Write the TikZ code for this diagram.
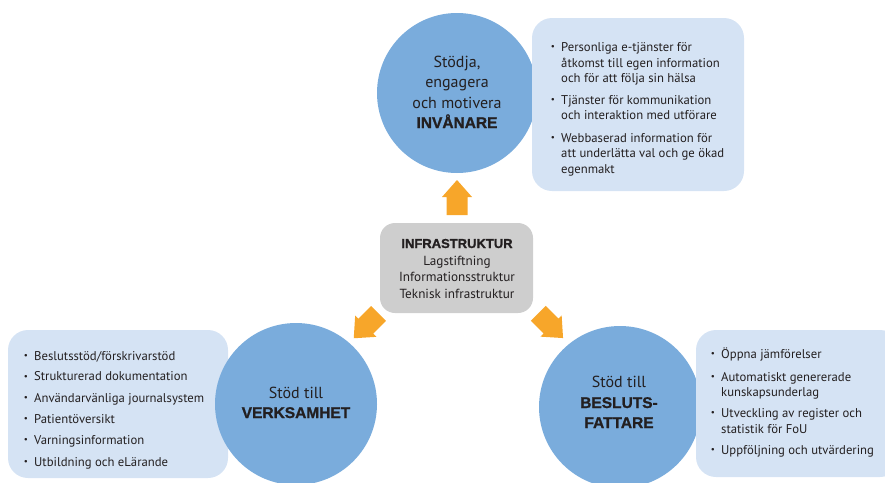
\documentclass[tikz,border=0pt]{standalone}
\usepackage{fontspec}
\setmainfont{PT Sans}
\newfontfamily\heavyfont{Liberation Sans}[BoldFeatures={FakeBold=1.2}]
\definecolor{circc}{RGB}{122,172,220}
\definecolor{boxc}{RGB}{213,227,244}
\definecolor{grayc}{RGB}{206,206,206}
\definecolor{orangec}{RGB}{247,166,42}
\definecolor{txtc}{RGB}{35,31,32}
\tikzset{
  circ/.style={fill=circc},
  infobox/.style={fill=boxc, rounded corners=20pt},
  arrowshape/.style={fill=orangec},
  ctext/.style={anchor=base, inner sep=0pt, text=txtc, font=\fontsize{16}{18}\selectfont},
  cbold/.style={anchor=base, inner sep=0pt, text=txtc, font=\heavyfont\bfseries\fontsize{15.5}{18}\selectfont},
  btext/.style={anchor=base west, inner sep=0pt, text=txtc, font=\fontsize{12.7}{14}\selectfont},
  bdot/.style={anchor=base, inner sep=0pt, text=txtc, font=\fontsize{9}{10}\selectfont},
  itext/.style={anchor=base, inner sep=0pt, text=txtc, font=\fontsize{13.2}{15}\selectfont},
  ibold/.style={anchor=base, inner sep=0pt, text=txtc, font=\heavyfont\bfseries\fontsize{13}{15}\selectfont},
}
\newcommand\bul[3]{\node[bdot] at (#1,#2-1.5) {•}; \node[btext] at (#1+8,#2) {#3};}
\begin{document}
\begin{tikzpicture}[x=1pt,y=-1pt]
\useasboundingbox (0,0) rectangle (885,482);
\begin{scope}
\clip (0,0) rectangle (885,482);
% top
\fill[circ] (457,93) circle (80);
\fill[infobox] (532,18) rectangle (744,191);
% infra
\fill[grayc, rounded corners=15pt] (380,223) rectangle (533,313);
% left
\fill[infobox] (8,330) rectangle (228,478);
\fill[circ] (296,404) circle (81);
% right
\fill[circ] (620,407) circle (81);
\fill[infobox] (696,330) rectangle (900,477);
% arrows
\begin{scope}[shift={(457,215)},rotate=90]
\fill[arrowshape] (0,-10.5)--(18,-10.5)--(18,-15)--(35,0)--(18,15)--(18,10.5)--(0,10.5)--cycle;
\end{scope}
\begin{scope}[shift={(378.5,313.5)},rotate=225]
\fill[arrowshape] (0,-10.5)--(18,-10.5)--(18,-15)--(35,0)--(18,15)--(18,10.5)--(0,10.5)--cycle;
\end{scope}
\begin{scope}[shift={(538.3,313.3)},rotate=-45]
\fill[arrowshape] (0,-10.5)--(18,-10.5)--(18,-15)--(35,0)--(18,15)--(18,10.5)--(0,10.5)--cycle;
\end{scope}
\end{scope}
% top circle text
\node[ctext] (t1) at (457,67) {Stödja,};
\node[ctext] (t2) at (457,87.5) {engagera};
\node[ctext] (t3) at (457,108) {och motivera};
\node[cbold] (t4) at (457,128) {INVÅNARE};
% top bullets
\bul{553}{51}{Personliga e-tjänster för}
\node[btext] (a2) at (561,67) {åtkomst till egen information};
\node[btext] (a3) at (561,82) {och för att följa sin hälsa};
\bul{553}{104}{Tjänster för kommunikation}
\node[btext] (a5) at (561,119.5) {och interaktion med utförare};
\bul{553}{142}{Webbaserad information för}
\node[btext] (a7) at (561,157.5) {att underlätta val och ge ökad};
\node[btext] (a8) at (561,173) {egenmakt};
% infra text
\node[ibold] (i1) at (457,248) {INFRASTRUKTUR};
\node[itext] (i2) at (457,265) {Lagstiftning};
\node[itext] (i3) at (457,281.5) {Informationsstruktur};
\node[itext] (i4) at (457,298) {Teknisk infrastruktur};
% left circle
\node[ctext] (l1) at (296,398) {Stöd till};
\node[cbold] (l2) at (296,418) {VERKSAMHET};
% left bullets
\bul{26}{360}{Beslutsstöd/förskrivarstöd}
\bul{26}{380.5}{Strukturerad dokumentation}
\bul{26}{402}{Användarvänliga journalsystem}
\bul{26}{423}{Patientöversikt}
\bul{26}{444}{Varningsinformation}
\bul{26}{466}{Utbildning och eLärande}
% right circle
\node[ctext] (r1) at (619,387) {Stöd till};
\node[cbold] (r2) at (619,408) {BESLUTS-};
\node[cbold] (r3) at (619,428) {FATTARE};
% right bullets
\bul{713}{358}{Öppna jämförelser}
\bul{713}{381}{Automatiskt genererade}
\node[btext] (b3) at (721,396) {kunskapsunderlag};
\bul{713}{417}{Utveckling av register och}
\node[btext] (b5) at (721,433) {statistik för FoU};
\bul{713}{454}{Uppföljning och utvärdering}
\end{tikzpicture}
\end{document}
